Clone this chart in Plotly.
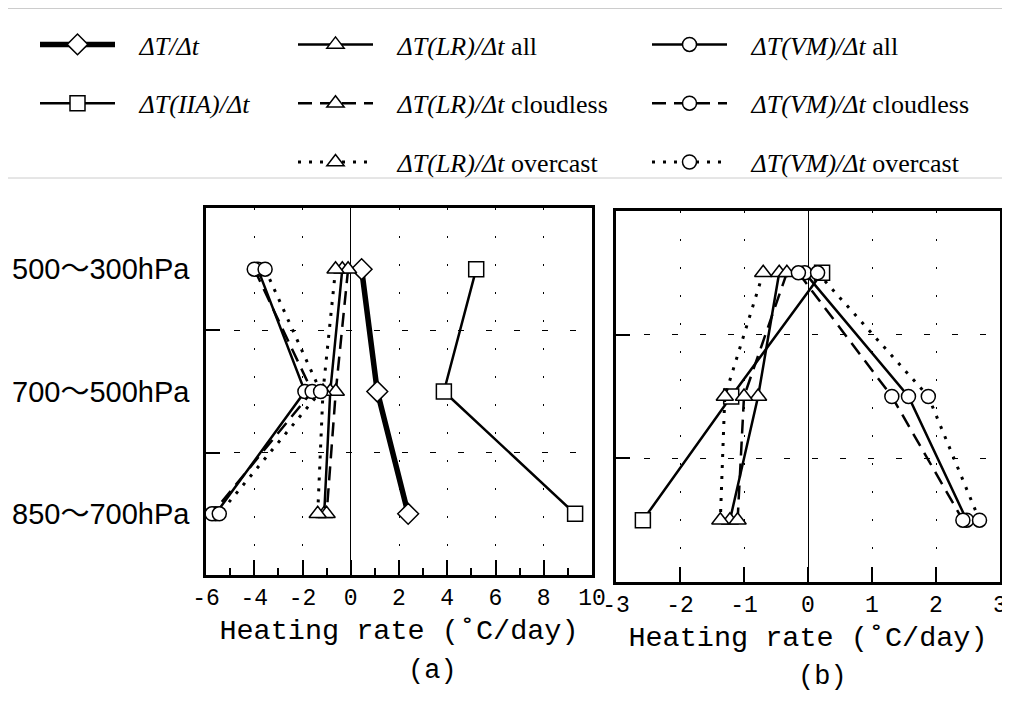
import plotly.graph_objects as go

# ---------------- data ----------------
levels = ["500～300hPa", "700～500hPa", "850～700hPa"]

# panel (a)
a_dT = [0.45, 1.1, 2.38]
a_IIA = [5.2, 3.86, 9.3]
a_LR_all = [-0.35, -0.85, -1.1]
a_LR_clear = [-0.11, -0.62, -1.0]
a_LR_over = [-0.63, -1.15, -1.37]
a_VM_all = [-3.85, -1.9, -5.6]
a_VM_clear = [-4.0, -1.6, -5.75]
a_VM_over = [-3.55, -1.25, -5.45]

# panel (b)
b_IIA = [0.22, -1.2, -2.58]
b_LR_all = [-0.45, -0.78, -1.22]
b_LR_clear = [-0.33, -1.0, -1.1]
b_LR_over = [-0.70, -1.3, -1.37]
b_VM_all = [-0.05, 1.57, 2.48]
b_VM_clear = [-0.15, 1.31, 2.42]
b_VM_over = [0.15, 1.88, 2.68]

a_ticks = [-6, -4, -2, 0, 2, 4, 6, 8, 10]
a_ticktext = ["-6", "-4", "-2", "0", "2", "4", "6", "8", "10"]
b_ticks = [-3, -2, -1, 0, 1, 2, 3]
b_ticktext = ["-3", "-2", "-1", "0", "1", "2", "3"]

PAD = "&nbsp;&nbsp;&nbsp;"
names = {
    "dT": PAD + "<i>ΔT/Δt</i>",
    "IIA": PAD + "<i>ΔT(IIA)/Δt</i>",
    "LR_all": PAD + "<i>ΔT(LR)/Δt</i> all",
    "LR_clear": PAD + "<i>ΔT(LR)/Δt</i> cloudless",
    "LR_over": PAD + "<i>ΔT(LR)/Δt</i> overcast",
    "VM_all": PAD + "<i>ΔT(VM)/Δt</i> all",
    "VM_clear": PAD + "<i>ΔT(VM)/Δt</i> cloudless",
    "VM_over": PAD + "<i>ΔT(VM)/Δt</i> overcast",
}

# ---------------- styles ----------------
styles = {
    "dT": dict(width=5.5, dash="solid", symbol="diamond", size=16, legend="legend"),
    "IIA": dict(width=2.5, dash="solid", symbol="square", size=15, legend="legend"),
    "LR_all": dict(width=2.5, dash="solid", symbol="triangle-up", size=15, legend="legend2"),
    "LR_clear": dict(width=2.5, dash="14px,8px", symbol="triangle-up", size=15, legend="legend2"),
    "LR_over": dict(width=3, dash="3px,8px", symbol="triangle-up", size=15, legend="legend2"),
    "VM_all": dict(width=2.5, dash="solid", symbol="circle", size=14, legend="legend3"),
    "VM_clear": dict(width=2.5, dash="14px,8px", symbol="circle", size=14, legend="legend3"),
    "VM_over": dict(width=3, dash="3px,8px", symbol="circle", size=14, legend="legend3"),
}

fig = go.Figure()


def add(key, xs, xaxis, yaxis, show):
    st = styles[key]
    fig.add_trace(go.Scatter(
        x=xs, y=levels, xaxis=xaxis, yaxis=yaxis,
        mode="lines+markers", name=names[key],
        line=dict(color="black", width=st["width"], dash=st["dash"]),
        marker=dict(symbol=st["symbol"], size=st["size"], color="white",
                    line=dict(color="black", width=1.5)),
        showlegend=show, legend=st["legend"], legendgroup=key,
        cliponaxis=False,
    ))


# panel (a)
for key, xs in [("dT", a_dT), ("IIA", a_IIA), ("LR_all", a_LR_all),
                ("LR_clear", a_LR_clear), ("LR_over", a_LR_over),
                ("VM_all", a_VM_all), ("VM_clear", a_VM_clear), ("VM_over", a_VM_over)]:
    add(key, xs, "x", "y", True)

# panel (b)
for key, xs in [("IIA", b_IIA), ("LR_all", b_LR_all), ("LR_clear", b_LR_clear),
                ("LR_over", b_LR_over), ("VM_all", b_VM_all), ("VM_clear", b_VM_clear),
                ("VM_over", b_VM_over)]:
    add(key, xs, "x2", "y2", False)

W, H = 1010, 718
OX, OY = 8, 8  # page offset of the plot inside the browser window


def fx(p):
    return (p - OX) / W


def fy(p):
    return 1 - (p - OY) / H


tickfont = dict(family="Liberation Mono, DejaVu Sans Mono, monospace", size=23, color="black")
titlefont = dict(family="Liberation Mono, DejaVu Sans Mono, monospace", size=28.5, color="black")
labfont = dict(family="Liberation Mono, DejaVu Sans Mono, monospace", size=27, color="black")

xcommon = dict(showline=True, linecolor="black", linewidth=2.5, mirror=True,
               ticks="inside", ticklen=15, tickcolor="black", tickwidth=1.5,
               showgrid=True, gridcolor="black", gridwidth=1, griddash="2px,26px",
               zeroline=True, zerolinecolor="black", zerolinewidth=1.2,
               tickfont=tickfont, tickmode="array", fixedrange=True, automargin=False,
               title=dict(text="Heating rate (˚C/day)", font=titlefont, standoff=8))

ycommon = dict(type="category", range=[2.5, -0.5], tickson="boundaries",
               showline=True, linecolor="black", linewidth=2.5, mirror=True,
               ticks="inside", ticklen=14, tickcolor="black", tickwidth=1.5,
               showgrid=True, gridcolor="black", gridwidth=1, griddash="6px,22px",
               zeroline=False, fixedrange=True, automargin=False)

legcommon = dict(xref="paper", yref="paper", xanchor="left", yanchor="top",
                 bgcolor="rgba(0,0,0,0)", borderwidth=0, traceorder="grouped",
                 tracegroupgap=22, itemwidth=75,
                 font=dict(family="Liberation Serif, Times New Roman, serif", size=26, color="black"))

frame_col = "#999999"

fig.update_layout(
    width=W, height=H,
    paper_bgcolor="white", plot_bgcolor="white",
    margin=dict(l=0, r=0, t=0, b=0, autoexpand=False),
    xaxis=dict(xcommon, domain=[fx(206), fx(592)], range=[-6, 10],
               tickvals=a_ticks, ticktext=a_ticktext,
               minor=dict(dtick=1, tick0=-5, ticks="inside", ticklen=7,
                          tickcolor="black", showgrid=False),
               anchor="y"),
    xaxis2=dict(xcommon, domain=[fx(616), fx(1000)], range=[-3, 3],
                tickvals=b_ticks, ticktext=b_ticktext, anchor="y2"),
    yaxis=dict(ycommon, domain=[fy(575), fy(208)], anchor="x",
               tickfont=dict(family="Liberation Sans, Noto Sans CJK JP, sans-serif",
                             size=29, color="black"), ticklabelstandoff=8),
    yaxis2=dict(ycommon, domain=[fy(582), fy(211)], anchor="x2",
                showticklabels=False),
    legend=dict(legcommon, x=fx(35), y=fy(21)),
    legend2=dict(legcommon, x=fx(293), y=fy(21)),
    legend3=dict(legcommon, x=fx(647), y=fy(21)),
    shapes=[
        dict(type="line", xref="paper", yref="paper", x0=fx(5), x1=fx(1018),
             y0=fy(8), y1=fy(8), line=dict(color=frame_col, width=1.2)),
        dict(type="line", xref="paper", yref="paper", x0=fx(5), x1=fx(5),
             y0=fy(8), y1=fy(178), line=dict(color=frame_col, width=1.2)),
        dict(type="line", xref="paper", yref="paper", x0=fx(5), x1=fx(1018),
             y0=fy(178), y1=fy(178), line=dict(color="#cccccc", width=1)),
    ],
    annotations=[
        dict(text="(a)", xref="paper", yref="paper", x=fx(432), y=fy(671),
             showarrow=False, font=labfont, xanchor="center", yanchor="middle"),
        dict(text="(b)", xref="paper", yref="paper", x=fx(822), y=fy(677),
             showarrow=False, font=labfont, xanchor="center", yanchor="middle"),
    ],
)

fig.write_html("out.html")
